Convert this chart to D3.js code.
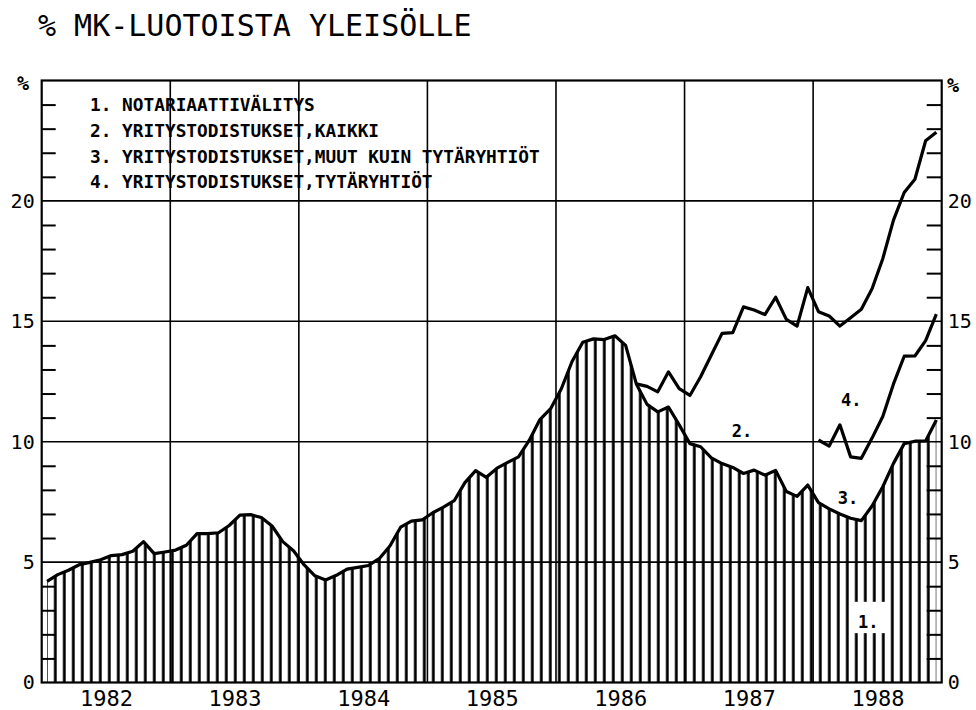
<!DOCTYPE html>
<html>
<head>
<meta charset="utf-8">
<script src="https://cdn.jsdelivr.net/npm/d3@7"></script>
<style>
  body { margin: 0; background: #fff; }
  text { fill: #000; }
</style>
</head>
<body>
<div id="chart"></div>
<script>
// tick labels / categories
const years = ["1982", "1983", "1984", "1985", "1986", "1987", "1988"];
const yLabels = [0, 5, 10, 15, 20];
const legendItems = [
  "1. NOTARIAATTIVÄLITYS",
  "2. YRITYSTODISTUKSET,KAIKKI",
  "3. YRITYSTODISTUKSET,MUUT KUIN TYTÄRYHTIÖT",
  "4. YRITYSTODISTUKSET,TYTÄRYHTIÖT"
];

// monthly values 1/1982 - 12/1988, % of markka loans to the public
// hatched area (its top edge is the lower line from 1986 on)
const alin = [
  4.2, 4.48, 4.66, 4.89, 4.99, 5.1, 5.27, 5.31, 5.45, 5.85, 5.35, 5.42,
  5.5, 5.7, 6.18, 6.18, 6.22, 6.52, 6.95, 6.97, 6.85, 6.5, 5.85, 5.47,
  4.88, 4.43, 4.26, 4.45, 4.71, 4.78, 4.86, 5.14, 5.67, 6.45, 6.7, 6.75,
  7.05, 7.28, 7.55, 8.3, 8.8, 8.52, 8.9, 9.14, 9.37, 10.05, 10.92, 11.37,
  12.2, 13.33, 14.13, 14.27, 14.24, 14.4, 14.0, 12.4, 11.55, 11.24, 11.44, 10.7,
  9.92, 9.79, 9.33, 9.09, 8.93, 8.68, 8.82, 8.61, 8.81, 7.93, 7.73, 8.2,
  7.47, 7.21, 7.0, 6.82, 6.72, 7.33, 8.13, 9.1, 9.92, 10.02, 10.03, 10.9
];
// upper line, starts at month index 55
const kaikkiStart = 55;
const kaikki = [
  12.4, 12.3, 12.07, 12.9, 12.2,
  11.92, 12.7, 13.6, 14.5, 14.53, 15.6, 15.47, 15.28, 16.0, 15.08, 14.8, 16.4,
  15.4, 15.22, 14.8, 15.15, 15.5, 16.35, 17.6, 19.2, 20.35, 20.9, 22.5, 22.85
];
// line 4, starts at month index 72
const tytarStart = 72;
const tytar = [10.07, 9.82, 10.7, 9.37, 9.31, 10.15, 11.05, 12.4, 13.55, 13.56, 14.2, 15.3];

const W = 976, H = 710;
const margin = { top: 80.5, left: 41.7 };
const width = 900, height = 602;

const svg = d3.select("#chart").append("svg")
  .attr("width", W).attr("height", H)
  .style("font-family", "'DejaVu Sans Mono', monospace");

const g = svg.append("g").attr("transform", `translate(${margin.left},${margin.top})`);

const x = d3.scaleLinear().domain([0, 84]).range([0, width]);
const y = d3.scaleLinear().domain([0, 25]).range([height, 0]);

// hatch pattern
const defs = svg.append("defs");
const pat = defs.append("pattern")
  .attr("id", "hatch")
  .attr("patternUnits", "userSpaceOnUse")
  .attr("x", 0).attr("y", 0)
  .attr("width", 9).attr("height", 10);
pat.append("rect").attr("x", 3.2).attr("y", 0).attr("width", 2.8).attr("height", 10).attr("fill", "#000");

// title
svg.append("text")
  .attr("x", 38).attr("y", 36)
  .style("font-size", "30px")
  .text("% MK-LUOTOISTA YLEISÖLLE");

// hatched area
const area = d3.area()
  .x((d, i) => x(i + 0.5))
  .y0(y(0))
  .y1(d => y(d));
g.append("path").datum(alin).attr("d", area).attr("fill", "url(#hatch)");

// gap in hatch for label 1.
g.append("rect")
  .attr("x", x(75.5)).attr("y", y(3.35))
  .attr("width", x(79.1) - x(75.5)).attr("height", y(2.05) - y(3.35))
  .attr("fill", "#fff");

// gridlines
g.append("g").selectAll("line").data([5, 10, 15, 20]).join("line")
  .attr("x1", 0).attr("x2", width)
  .attr("y1", d => y(d)).attr("y2", d => y(d))
  .attr("stroke", "#000").attr("stroke-width", 1.6);
g.append("g").selectAll("line").data(d3.range(12, 84, 12)).join("line")
  .attr("x1", d => x(d)).attr("x2", d => x(d))
  .attr("y1", 0).attr("y2", height)
  .attr("stroke", "#000").attr("stroke-width", 1.6);

// minor ticks, inward on both sides
const minor = d3.range(1, 25).filter(v => v % 5 !== 0);
g.append("g")
  .call(d3.axisRight(y).tickValues(minor).tickSize(14).tickFormat(""))
  .call(a => a.select(".domain").remove())
  .selectAll("line").attr("stroke-width", 2);
g.append("g").attr("transform", `translate(${width},0)`)
  .call(d3.axisLeft(y).tickValues(minor).tickSize(15).tickFormat(""))
  .call(a => a.select(".domain").remove())
  .selectAll("line").attr("stroke-width", 2);

// y labels
g.append("g")
  .call(d3.axisLeft(y).tickValues(yLabels).tickSize(0).tickPadding(7))
  .call(a => a.select(".domain").remove())
  .selectAll("text").style("font-size", "20px").style("font-family", "'DejaVu Sans Mono', monospace");
g.append("g").attr("transform", `translate(${width},0)`)
  .call(d3.axisRight(y).tickValues(yLabels).tickSize(0).tickPadding(6))
  .call(a => a.select(".domain").remove())
  .selectAll("text").style("font-size", "20px").style("font-family", "'DejaVu Sans Mono', monospace");

// year labels
g.append("g").attr("transform", `translate(0,${height})`)
  .call(d3.axisBottom(x).tickValues(years.map((d, i) => i * 12 + 6)).tickSize(0).tickPadding(8)
    .tickFormat((d, i) => years[i]))
  .call(a => a.select(".domain").remove())
  .selectAll("text").style("font-size", "22px").style("font-family", "'DejaVu Sans Mono', monospace");

// % marks
svg.append("text").attr("x", 17).attr("y", 90).style("font-size", "20px").style("font-weight", "bold").text("%");
svg.append("text").attr("x", 947).attr("y", 92).style("font-size", "20px").style("font-weight", "bold").text("%");

// lines
const line = d3.line().x(d => x(d.i + 0.5)).y(d => y(d.v));
const drawLine = (vals, start) => g.append("path")
  .datum(vals.map((v, k) => ({ i: start + k, v: v })))
  .attr("d", line)
  .attr("fill", "none").attr("stroke", "#000")
  .attr("stroke-width", 3.2).attr("stroke-linejoin", "round");
drawLine(alin, 0);
drawLine(kaikki, kaikkiStart);
drawLine(tytar, tytarStart);

// frame
g.append("rect").attr("width", width).attr("height", height)
  .attr("fill", "none").attr("stroke", "#000").attr("stroke-width", 2.2);

// legend
g.append("g").selectAll("text").data(legendItems).join("text")
  .attr("x", 90 - margin.left)
  .attr("y", (d, i) => 111 - margin.top + i * 25.8)
  .style("font-size", "17.8px").style("font-weight", "bold")
  .text(d => d);

// series labels
const seriesLabels = [
  { t: "1.", i: 76.2, v: 2.28 },
  { t: "2.", i: 64.4, v: 10.2 },
  { t: "3.", i: 74.3, v: 7.4 },
  { t: "4.", i: 74.6, v: 11.5 }
];
g.append("g").selectAll("text").data(seriesLabels).join("text")
  .attr("x", d => x(d.i)).attr("y", d => y(d.v))
  .style("font-size", "17px").style("font-weight", "bold")
  .text(d => d.t);
</script>
</body>
</html>
